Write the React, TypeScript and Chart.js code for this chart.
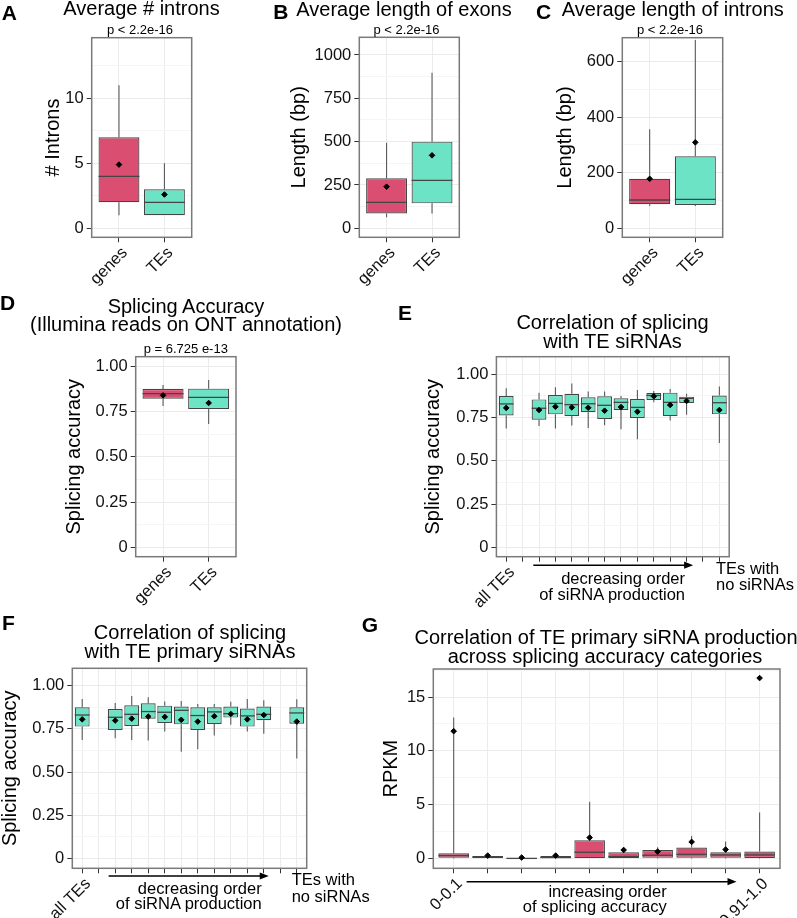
import React, { useEffect, useRef } from 'react';
import { Chart, registerables } from 'chart.js';

Chart.register(...registerables);

const W = 797;
const H = 918;
const CANVAS_H = 1000;
const FONT = "'Liberation Sans', Arial, Helvetica, sans-serif";
Chart.defaults.font.family = FONT;

const PINK = '#DA4E72';
const TEAL = '#6DE3C5';
const BOX_LINE = '#454545';
const WHISKER = '#5a5a5a';
const GRID_MAJOR = '#EBEBEB';
const GRID_MINOR = '#F5F5F5';
const BORDER = '#7a7a7a';
const TEXT = '#111111';

// ---------------- Panel A: Average # introns
const A_CATEGORIES = ['genes', 'TEs'];
const A_Q1 = [2, 1];
const A_MEDIAN = [4, 2];
const A_Q3 = [7, 3];
const A_LOW = [1, 1];
const A_HIGH = [11, 5];
const A_MEAN = [4.9, 2.6];
const A_Y_TICKS = [0, 5, 10];
const A_Y_MINOR = [2.5, 7.5, 12.5];
const A_Y_RANGE = [-0.69, 14.66];

// ---------------- Panel B: Average length of exons
const B_CATEGORIES = ['genes', 'TEs'];
const B_Q1 = [86, 144];
const B_MEDIAN = [150, 277];
const B_Q3 = [288, 500];
const B_LOW = [63, 86];
const B_HIGH = [494, 898];
const B_MEAN = [240, 421];
const B_Y_TICKS = [0, 250, 500, 750, 1000];
const B_Y_MINOR = [125, 375, 625, 875];
const B_Y_RANGE = [-52, 1102];

// ---------------- Panel C: Average length of introns
const C_CATEGORIES = ['genes', 'TEs'];
const C_Q1 = [87, 84];
const C_MEDIAN = [102, 104];
const C_Q3 = [178, 259];
const C_LOW = [80, 80];
const C_HIGH = [356, 677];
const C_MEAN = [178, 309];
const C_Y_TICKS = [0, 200, 400, 600];
const C_Y_MINOR = [100, 300, 500];
const C_Y_RANGE = [-32, 685];

// ---------------- Panel D: Splicing accuracy
const D_CATEGORIES = ['genes', 'TEs'];
const D_Q1 = [0.82, 0.764];
const D_MEDIAN = [0.848, 0.828];
const D_Q3 = [0.874, 0.876];
const D_LOW = [0.78, 0.681];
const D_HIGH = [0.896, 0.923];
const D_MEAN = [0.839, 0.797];
const ACC_TICKS = [0, 0.25, 0.5, 0.75, 1];
const ACC_MINOR = [0.125, 0.375, 0.625, 0.875];
const D_Y_RANGE = [-0.05, 1.052];

// ---------------- Panel E: correlation with TE siRNAs
const E_CATEGORIES = ['all TEs', '', '', '', '', '', '', '', '', '', '', '', '', ''];
const E_SLOTS = [1, 3, 4, 5, 6, 7, 8, 9, 10, 11, 12, 14];
const E_Q1 = [0.762, 0.737, 0.768, 0.758, 0.78, 0.741, 0.793, 0.747, 0.851, 0.758, 0.833, 0.768];
const E_MEDIAN = [0.828, 0.803, 0.831, 0.824, 0.829, 0.82, 0.837, 0.808, 0.877, 0.837, 0.86, 0.835];
const E_Q3 = [0.874, 0.854, 0.879, 0.887, 0.866, 0.872, 0.86, 0.856, 0.891, 0.893, 0.87, 0.876];
const E_LOW = [0.687, 0.701, 0.687, 0.703, 0.689, 0.705, 0.682, 0.624, 0.837, 0.732, 0.766, 0.603];
const E_HIGH = [0.918, 0.893, 0.924, 0.945, 0.9, 0.899, 0.874, 0.908, 0.902, 0.914, 0.887, 0.929];
const E_MEAN = [0.805, 0.793, 0.812, 0.808, 0.806, 0.789, 0.81, 0.783, 0.872, 0.822, 0.845, 0.793];
const E_Y_RANGE = [-0.052, 1.1];

// ---------------- Panel F: correlation with TE primary siRNAs
const F_CATEGORIES = ['all TEs', '', '', '', '', '', '', '', '', '', '', '', '', ''];
const F_SLOTS = [1, 3, 4, 5, 6, 7, 8, 9, 10, 11, 12, 14];
const F_Q1 = [0.763, 0.744, 0.767, 0.809, 0.784, 0.776, 0.744, 0.778, 0.815, 0.763, 0.8, 0.78];
const F_MEDIAN = [0.83, 0.817, 0.834, 0.85, 0.846, 0.857, 0.827, 0.848, 0.838, 0.825, 0.834, 0.842];
const F_Q3 = [0.875, 0.865, 0.886, 0.898, 0.884, 0.879, 0.875, 0.875, 0.879, 0.867, 0.879, 0.875];
const F_LOW = [0.686, 0.696, 0.686, 0.682, 0.734, 0.618, 0.632, 0.711, 0.773, 0.734, 0.721, 0.578];
const F_HIGH = [0.923, 0.9, 0.94, 0.933, 0.908, 0.911, 0.894, 0.894, 0.906, 0.923, 0.915, 0.921];
const F_MEAN = [0.805, 0.798, 0.809, 0.821, 0.819, 0.802, 0.792, 0.823, 0.836, 0.805, 0.83, 0.792];
const F_Y_RANGE = [-0.056, 1.1];

// ---------------- Panel G: RPKM across splicing accuracy categories
const G_CATEGORIES = ['0-0.1', '', '', '', '', '', '', '', '', '0.91-1.0'];
const G_SLOTS = [1, 2, 3, 4, 5, 6, 7, 8, 9, 10];
const G_Q1 = [0.09, 0.06, 0.0, 0.0, 0.0, 0.0, 0.09, 0.09, 0.09, 0.06];
const G_MEDIAN = [0.28, 0.15, 0.02, 0.1, 0.59, 0.19, 0.31, 0.4, 0.34, 0.34];
const G_Q3 = [0.5, 0.25, 0.05, 0.25, 1.7, 0.59, 0.8, 1.02, 0.59, 0.65];
const G_LOW = [0, 0, 0, 0, 0, 0, 0, 0, 0, 0];
const G_HIGH = [13.1, 0.3, 0.12, 0.4, 5.27, 1.02, 1.05, 2.1, 1.58, 4.27];
const G_MEAN = [11.83, 0.28, 0.1, 0.28, 1.95, 0.8, 0.65, 1.55, 0.84, 16.76];
const G_Y_TICKS = [0, 5, 10, 15];
const G_Y_MINOR = [2.5, 7.5, 12.5, 17.5];
const G_Y_RANGE = [-0.9, 17.6];

type Spec = {
  cats: string[];
  slots: number[];
  q1: number[];
  med: number[];
  q3: number[];
  lo: number[];
  hi: number[];
  mean: number[];
  colors: string[];
  yRange: number[];
  yTicks: number[];
  yMinor: number[];
  fmt: (v: number) => string;
  yTitle: string;
  area: number[]; // x0, y0, x1, y1 (layout)
  yTitleX: number;
  arrow?: { from: number; to: number; dy: number };
};

const intFmt = (v: number) => String(v);
const accFmt = (v: number) => (v === 0 ? '0' : v.toFixed(2));

const SPECS: Spec[] = [
  {
    cats: A_CATEGORIES, slots: [1, 2], q1: A_Q1, med: A_MEDIAN, q3: A_Q3, lo: A_LOW, hi: A_HIGH, mean: A_MEAN,
    colors: [PINK, TEAL], yRange: A_Y_RANGE, yTicks: A_Y_TICKS, yMinor: A_Y_MINOR, fmt: intFmt,
    yTitle: '# Introns', area: [91.7, 37.7, 191.7, 237.3], yTitleX: 53,
  },
  {
    cats: B_CATEGORIES, slots: [1, 2], q1: B_Q1, med: B_MEDIAN, q3: B_Q3, lo: B_LOW, hi: B_HIGH, mean: B_MEAN,
    colors: [PINK, TEAL], yRange: B_Y_RANGE, yTicks: B_Y_TICKS, yMinor: B_Y_MINOR, fmt: intFmt,
    yTitle: 'Length (bp)', area: [359.3, 37.3, 459.3, 237.3], yTitleX: 299.5,
  },
  {
    cats: C_CATEGORIES, slots: [1, 2], q1: C_Q1, med: C_MEDIAN, q3: C_Q3, lo: C_LOW, hi: C_HIGH, mean: C_MEAN,
    colors: [PINK, TEAL], yRange: C_Y_RANGE, yTicks: C_Y_TICKS, yMinor: C_Y_MINOR, fmt: intFmt,
    yTitle: 'Length (bp)', area: [622.3, 37.7, 722.7, 237.3], yTitleX: 565.5,
  },
  {
    cats: D_CATEGORIES, slots: [1, 2], q1: D_Q1, med: D_MEDIAN, q3: D_Q3, lo: D_LOW, hi: D_HIGH, mean: D_MEAN,
    colors: [PINK, TEAL], yRange: D_Y_RANGE, yTicks: ACC_TICKS, yMinor: ACC_MINOR, fmt: accFmt,
    yTitle: 'Splicing accuracy', area: [135.7, 356.7, 236, 556.7], yTitleX: 74.5,
  },
  {
    cats: E_CATEGORIES, slots: E_SLOTS, q1: E_Q1, med: E_MEDIAN, q3: E_Q3, lo: E_LOW, hi: E_HIGH, mean: E_MEAN,
    colors: E_SLOTS.map(() => TEAL), yRange: E_Y_RANGE, yTicks: ACC_TICKS, yMinor: ACC_MINOR, fmt: accFmt,
    yTitle: 'Splicing accuracy', area: [496.4, 356.7, 729.2, 556.7], yTitleX: 433.5,
    arrow: { from: 2.65, to: 12.4, dy: 8.5 },
  },
  {
    cats: F_CATEGORIES, slots: F_SLOTS, q1: F_Q1, med: F_MEDIAN, q3: F_Q3, lo: F_LOW, hi: F_HIGH, mean: F_MEAN,
    colors: F_SLOTS.map(() => TEAL), yRange: F_Y_RANGE, yTicks: ACC_TICKS, yMinor: ACC_MINOR, fmt: accFmt,
    yTitle: 'Splicing accuracy', area: [72.3, 668.3, 306.7, 868.3], yTitleX: 10,
    arrow: { from: 2.6, to: 12.3, dy: 7.7 },
  },
  {
    cats: G_CATEGORIES, slots: G_SLOTS, q1: G_Q1, med: G_MEDIAN, q3: G_Q3, lo: G_LOW, hi: G_HIGH, mean: G_MEAN,
    colors: G_SLOTS.map(() => PINK), yRange: G_Y_RANGE, yTicks: G_Y_TICKS, yMinor: G_Y_MINOR, fmt: intFmt,
    yTitle: 'RPKM', area: [433.3, 669, 780, 868.3], yTitleX: 391,
    arrow: { from: 1.38, to: 9.32, dy: 13.4 },
  },
];

const XAXIS_H = 80;

function makePlugin(s: Spec) {
  return {
    id: 'boxWhisker',
    afterDatasetDraw(chart: any, args: any) {
      if (args.index !== 0) return;
      const ctx = chart.ctx;
      const ys = chart.scales.y;
      const meta = chart.getDatasetMeta(0);
      ctx.save();
      meta.data.forEach((bar: any, i: number) => {
        const { x, width } = bar.getProps(['x', 'width'], true);
        ctx.strokeStyle = WHISKER;
        ctx.lineWidth = 1.1;
        ctx.beginPath();
        ctx.moveTo(x, ys.getPixelForValue(s.q3[i]));
        ctx.lineTo(x, ys.getPixelForValue(s.hi[i]));
        ctx.moveTo(x, ys.getPixelForValue(s.q1[i]));
        ctx.lineTo(x, ys.getPixelForValue(s.lo[i]));
        ctx.stroke();
        const ym = ys.getPixelForValue(s.med[i]);
        ctx.strokeStyle = BOX_LINE;
        ctx.lineWidth = 1.3;
        ctx.beginPath();
        ctx.moveTo(x - width / 2, ym);
        ctx.lineTo(x + width / 2, ym);
        ctx.stroke();
      });
      ctx.restore();
    },
    afterDraw(chart: any) {
      const ctx = chart.ctx;
      const a = chart.chartArea;
      ctx.save();
      ctx.strokeStyle = BORDER;
      ctx.lineWidth = 1.5;
      ctx.strokeRect(a.left, a.top, a.right - a.left, a.bottom - a.top);
      if (s.arrow) {
        const xs = chart.scales.x;
        const x0 = xs.getPixelForValue(s.arrow.from);
        const x1 = xs.getPixelForValue(s.arrow.to);
        const y = a.bottom + s.arrow.dy;
        const head = 9;
        ctx.strokeStyle = '#000';
        ctx.fillStyle = '#000';
        ctx.lineWidth = 1.6;
        ctx.beginPath();
        ctx.moveTo(x0, y);
        ctx.lineTo(x1 - head + 1, y);
        ctx.stroke();
        ctx.beginPath();
        ctx.moveTo(x1, y);
        ctx.lineTo(x1 - head, y - 3.6);
        ctx.lineTo(x1 - head, y + 3.6);
        ctx.closePath();
        ctx.fill();
      }
      ctx.restore();
    },
  };
}

function makeConfig(s: Spec): any {
  const [x0, y0, x1, y1] = s.area;
  const padLeft = Math.max(0, s.yTitleX - 10);
  const allYTicks = [...s.yTicks, ...s.yMinor].sort((p, q) => p - q);
  const isMajor = (v: number) => s.yTicks.some((t) => Math.abs(t - v) < 1e-9);
  return {
    type: 'bar',
    data: {
      datasets: [
        {
          type: 'bar',
          data: s.slots.map((x, i) => ({ x, y: [s.q1[i], s.q3[i]] })),
          backgroundColor: s.colors,
          borderColor: BOX_LINE,
          borderWidth: 1.2,
          borderSkipped: false,
          categoryPercentage: 1,
          barPercentage: 0.9,
          order: 2,
        },
        {
          type: 'scatter',
          data: s.slots.map((x, i) => ({ x, y: s.mean[i] })),
          pointStyle: 'rectRot',
          radius: 2.8,
          borderWidth: 1,
          backgroundColor: '#000',
          borderColor: '#000',
          order: 0,
        },
      ],
    },
    options: {
      responsive: false,
      animation: false,
      events: [],
      layout: { padding: { left: padLeft, top: y0, right: W - x1, bottom: CANVAS_H - y1 - XAXIS_H } },
      plugins: { legend: { display: false }, tooltip: { enabled: false }, title: { display: false } },
      scales: {
        x: {
          type: 'linear',
          min: 0.4,
          max: s.cats.length + 0.6,
          bounds: 'data',
          offset: false,
          afterBuildTicks: (sc: any) => {
            sc.ticks = s.cats.map((_, i) => ({ value: i + 1 }));
          },
          afterFit: (sc: any) => {
            sc.height = XAXIS_H;
          },
          border: { display: false },
          grid: { offset: false, color: GRID_MAJOR, lineWidth: 1, tickColor: '#333', tickLength: 5, tickWidth: 1 },
          ticks: {
            autoSkip: false,
            minRotation: 45,
            maxRotation: 45,
            padding: 1,
            labelOffset: 6,
            color: TEXT,
            font: { family: FONT, size: 16.5 },
            callback: (v: number) => s.cats[Math.round(v) - 1] ?? '',
          },
        },
        y: {
          type: 'linear',
          min: s.yRange[0],
          max: s.yRange[1],
          bounds: 'data',
          afterBuildTicks: (sc: any) => {
            sc.ticks = allYTicks.map((v) => ({ value: v }));
          },
          afterFit: (sc: any) => {
            sc.width = x0 - padLeft;
          },
          border: { display: false },
          grid: {
            color: (c: any) => (c.tick && isMajor(c.tick.value) ? GRID_MAJOR : GRID_MINOR),
            lineWidth: 1,
            tickColor: (c: any) => (c.tick && isMajor(c.tick.value) ? '#333' : 'rgba(0,0,0,0)'),
            tickLength: 5,
            tickWidth: 1,
          },
          ticks: {
            padding: 3,
            color: TEXT,
            font: { family: FONT, size: 16.5 },
            callback: (v: number) => (isMajor(v) ? s.fmt(v) : ''),
          },
          title: {
            display: true,
            text: s.yTitle,
            color: '#000',
            padding: 0,
            font: { family: FONT, size: 20, lineHeight: 1 },
          },
        },
      },
    },
    plugins: [makePlugin(s)],
  };
}

function BoxPanel({ spec }: { spec: Spec }) {
  const ref = useRef<HTMLCanvasElement>(null);
  useEffect(() => {
    if (!ref.current) return;
    const chart = new Chart(ref.current, makeConfig(spec));
    return () => chart.destroy();
  }, [spec]);
  return (
    <canvas
      ref={ref}
      width={W}
      height={CANVAS_H}
      style={{ position: 'absolute', left: 0, top: 0, width: W, height: CANVAS_H }}
    />
  );
}

type Txt = { t: string; x: number; y: number; size: number; align?: 'left' | 'center' | 'right'; bold?: boolean };

const TEXTS: Txt[] = [
  // Panel letters
  { t: 'A', x: 1.7, y: 20, size: 21, bold: true },
  { t: 'B', x: 273.3, y: 18.3, size: 21, bold: true },
  { t: 'C', x: 536, y: 18.3, size: 21, bold: true },
  { t: 'D', x: 0, y: 310, size: 21, bold: true },
  { t: 'E', x: 397.9, y: 319.3, size: 21, bold: true },
  { t: 'F', x: 2, y: 630, size: 21, bold: true },
  { t: 'G', x: 361.7, y: 631.7, size: 21, bold: true },
  // Titles
  { t: 'Average # introns', x: 141.5, y: 15.3, size: 20, align: 'center' },
  { t: 'Average length of exons', x: 404, y: 16, size: 20, align: 'center' },
  { t: 'Average length of introns', x: 672.8, y: 16, size: 20, align: 'center' },
  { t: 'Splicing Accuracy', x: 186, y: 312.7, size: 20, align: 'center' },
  { t: '(Illumina reads on ONT annotation)', x: 186, y: 330.7, size: 20, align: 'center' },
  { t: 'Correlation of splicing', x: 612.6, y: 329.3, size: 20, align: 'center' },
  { t: 'with TE siRNAs', x: 612.6, y: 348.3, size: 20, align: 'center' },
  { t: 'Correlation of splicing', x: 190, y: 639.3, size: 20, align: 'center' },
  { t: 'with TE primary siRNAs', x: 190, y: 658.3, size: 20, align: 'center' },
  { t: 'Correlation of TE primary siRNA production', x: 606, y: 644, size: 20, align: 'center' },
  { t: 'across splicing accuracy categories', x: 605, y: 663.3, size: 20, align: 'center' },
  // p-values
  { t: 'p < 2.2e-16', x: 140, y: 34, size: 13, align: 'center' },
  { t: 'p < 2.2e-16', x: 406.5, y: 34, size: 13, align: 'center' },
  { t: 'p < 2.2e-16', x: 670, y: 34, size: 13, align: 'center' },
  { t: 'p = 6.725 e-13', x: 185.8, y: 353.3, size: 13, align: 'center' },
  // Annotations E
  { t: 'decreasing order', x: 685, y: 584.3, size: 16.5, align: 'right' },
  { t: 'of siRNA production', x: 685, y: 600, size: 16.5, align: 'right' },
  { t: 'TEs with', x: 716, y: 574, size: 16.5 },
  { t: 'no siRNAs', x: 716, y: 590, size: 16.5 },
  // Annotations F
  { t: 'decreasing order', x: 261.7, y: 894, size: 16.5, align: 'right' },
  { t: 'of siRNA production', x: 261.7, y: 909.3, size: 16.5, align: 'right' },
  { t: 'TEs with', x: 291.7, y: 885, size: 16.5 },
  { t: 'no siRNAs', x: 291.7, y: 901.7, size: 16.5 },
  // Annotations G
  { t: 'increasing order', x: 666.7, y: 896.7, size: 16.5, align: 'right' },
  { t: 'of splicing accuracy', x: 666.7, y: 911.7, size: 16.5, align: 'right' },
];

function TextItem({ d }: { d: Txt }) {
  const tx = d.align === 'center' ? 'translateX(-50%)' : d.align === 'right' ? 'translateX(-100%)' : 'none';
  return (
    <div
      style={{
        position: 'absolute',
        left: d.x,
        top: d.y - 0.8465 * d.size,
        fontSize: d.size,
        lineHeight: 1,
        fontWeight: d.bold ? 700 : 400,
        whiteSpace: 'nowrap',
        transform: tx,
        color: '#000',
      }}
    >
      {d.t}
    </div>
  );
}

export default function App() {
  return (
    <div
      style={{
        position: 'absolute',
        left: 0,
        top: 0,
        width: W,
        height: H,
        overflow: 'hidden',
        background: '#fff',
        fontFamily: FONT,
      }}
    >
      {SPECS.map((s, i) => (
        <BoxPanel key={i} spec={s} />
      ))}
      {TEXTS.map((d, i) => (
        <TextItem key={i} d={d} />
      ))}
    </div>
  );
}
